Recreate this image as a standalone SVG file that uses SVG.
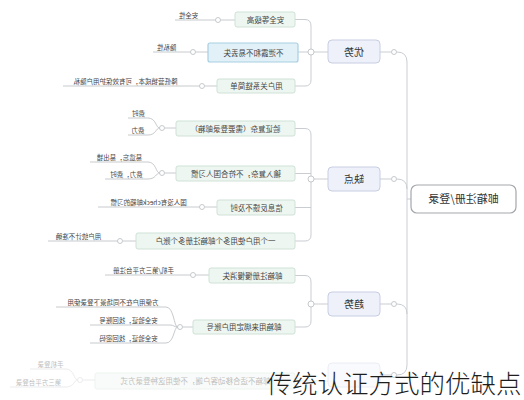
<svg xmlns="http://www.w3.org/2000/svg" width="524" height="400" viewBox="0 0 524 400">
<style>
text{font-family:"Noto Sans CJK SC","Noto Sans",sans-serif;fill:#444}
.m{transform:scaleX(-1);transform-box:fill-box;transform-origin:center}
.t8{font-size:7.5px;text-anchor:middle}
.t7{font-size:6.5px;text-anchor:middle;fill:#444}
.t10{font-size:10px;text-anchor:middle;fill:#333}
.t11{font-size:11px;text-anchor:middle;fill:#333}
.ln{fill:none;stroke:#c9cdd2;stroke-width:1}
.lf{fill:none;stroke:#b8bcc0;stroke-width:0.8}
.dot{fill:#fff;stroke:#b8bcc0;stroke-width:0.8}
.b1{fill:#eef1fa;stroke:#c8cee2;stroke-width:1}
.b2{fill:#eef6f1;stroke:#cfe2d6;stroke-width:1}
.bh{fill:#e2f0f7;stroke:#a7cfe3;stroke-width:1.2}
.root{fill:#fff;stroke:#a3a7ab;stroke-width:1.2}
</style>
<rect width="524" height="400" fill="#fff"/>
<g id="connectors">
<path class="ln" d="M407,62 V365 M397,52 Q407,52 407,62 M397,179 Q407,179 407,189 M397,304 Q407,304 407,314 M397,375 Q407,375 407,365 M407,199 H411"/>
<path class="ln" d="M380,52 H391 M380,179 H391 M380,304 H391 M380,375 H391"/>
<circle class="dot" cx="394" cy="52" r="2.5"/><circle class="dot" cx="394" cy="179" r="2.5"/><circle class="dot" cx="394" cy="304" r="2.5"/><circle class="dot" cx="394" cy="375" r="2.5"/>
<path class="ln" d="M295,19.5 H305 Q311,19.5 311,26 V80 Q311,86 305,86 H295 M298,52 H308 M314,52 H328"/>
<circle class="dot" cx="311" cy="52" r="3"/>
<path class="ln" d="M295,128.5 H305 Q311,128.5 311,135 V235 Q311,241 305,241 H295 M295,173.5 H311 M295,207.5 H311 M314,179 H328"/>
<circle class="dot" cx="311" cy="179" r="3"/>
<path class="ln" d="M295,275.5 H305 Q311,275.5 311,282 V321 Q311,327 305,327 H295 M314,304 H328"/>
<circle class="dot" cx="311" cy="304" r="3"/>
<path class="lf" d="M175,20 H215.5 M221,20 H235"/><circle class="dot" cx="218" cy="20" r="2.5"/>
<path class="lf" d="M153,52 H190.5 M196,52 H208"/><circle class="dot" cx="193" cy="52" r="2.5"/>
<path class="lf" d="M63,86 H199.5 M205,86 H217"/><circle class="dot" cx="202" cy="86" r="2.5"/>
<path class="lf" d="M128,118 H148 C156,118 156,128 159.5,128 M128,135 H148 C156,135 156,128 159.5,128 M165,128 H176"/><circle class="dot" cx="162" cy="128" r="2.5"/>
<path class="lf" d="M90,162 H148 C156,162 156,173 159.5,173 M105,179 H148 C156,179 156,173 159.5,173 M165,173 H176"/><circle class="dot" cx="162" cy="173" r="2.5"/>
<path class="lf" d="M98,207 H199.5 M205,207 H217"/><circle class="dot" cx="202" cy="207" r="2.5"/>
<path class="lf" d="M48,241 H117.5 M123,241 H136"/><circle class="dot" cx="120" cy="241" r="2.5"/>
<path class="lf" d="M105,275 H190.5 M196,275 H209"/><circle class="dot" cx="193" cy="275" r="2.5"/>
<path class="lf" d="M56,307 H166 C174,307 174,327 177.5,327 M90,325 H170 C174,325 174,327 177.5,327 M90,343 H166 C174,343 174,327 177.5,327 M183,327 H193"/><circle class="dot" cx="180" cy="327" r="2.5"/>
<g opacity="0.35">
<path class="ln" d="M295,381 H328"/>
<path class="lf" d="M30,369 H66 C74,369 74,380 77.5,380 M10,387 H66 C74,387 74,380 77.5,380 M83,380 H95"/><circle class="dot" cx="80" cy="380" r="2.5"/>
</g>
</g>
<g id="root"><rect class="root" x="411" y="185" width="105" height="28" rx="6"/><text class="t11 m" x="463.5" y="203">邮箱注册/登录</text></g>
<g id="youshi"><rect class="b1" x="328" y="40" width="52" height="23" rx="4"/><text class="t10 m" x="354" y="55.5">优势</text></g>
<g id="quedian"><rect class="b1" x="328" y="167" width="52" height="24" rx="4"/><text class="t10 m" x="354" y="182.5">缺点</text></g>
<g id="qushi"><rect class="b1" x="328" y="292" width="52" height="24" rx="4"/><text class="t10 m" x="354" y="307.5">趋势</text></g>
<g id="bottom" opacity="0.35"><rect class="b1" x="328" y="363" width="52" height="24" rx="4"/></g>
<g id="y1"><rect class="b2" x="235" y="12" width="60" height="15" rx="2"/><text class="t8 m" x="265" y="22.5">安全等级高</text></g>
<g id="y1l"><text class="t7 m" x="188" y="17.5">安全性</text></g>
<g id="y2"><rect class="bh" x="208" y="43" width="90" height="19" rx="2"/><text class="t8 m" x="253" y="55.5">不泄露和不易丢失</text></g>
<g id="y2l"><text class="t7 m" x="166" y="49.5">隐私性</text></g>
<g id="y3"><rect class="b2" x="217" y="79" width="78" height="14" rx="2"/><text class="t8 m" x="256" y="89">用户关系链简单</text></g>
<g id="y3l"><text class="t7 m" x="125" y="83.5">降低营销成本，可有效保护用户隐私</text></g>
<g id="q1"><rect class="b2" x="176" y="121" width="119" height="15" rx="2"/><text class="t8 m" x="235.5" y="131.5">验证复杂（需要登录邮箱）</text></g>
<g id="q1l"><text class="t7 m" x="138" y="115.5">费时</text><text class="t7 m" x="138" y="132.5">费力</text></g>
<g id="q2"><rect class="b2" x="176" y="166" width="119" height="15" rx="2"/><text class="t8 m" x="235.5" y="176.5">输入复杂，不符合国人习惯</text></g>
<g id="q2l"><text class="t7 m" x="119" y="159.5">易遗忘，易出错</text><text class="t7 m" x="126" y="176.5">费力，费时</text></g>
<g id="q3"><rect class="b2" x="217" y="200" width="78" height="15" rx="2"/><text class="t8 m" x="256" y="210.5">信息反馈不及时</text></g>
<g id="q3l"><text class="t7 m" x="148" y="204.5">国人没有check邮箱的习惯</text></g>
<g id="q4"><rect class="b2" x="136" y="233" width="159" height="16" rx="2"/><text class="t8 m" x="215.5" y="244">一个用户使用多个邮箱注册多个账户</text></g>
<g id="q4l"><text class="t7 m" x="78" y="238.5">用户统计不准确</text></g>
<g id="s1"><rect class="b2" x="209" y="268" width="86" height="15" rx="2"/><text class="t8 m" x="252" y="278.5">邮箱注册慢慢消失</text></g>
<g id="s1l"><text class="t7 m" x="143" y="272.5">手机/第三方平台注册</text></g>
<g id="s2"><rect class="b2" x="193" y="320" width="102" height="14" rx="2"/><text class="t8 m" x="244" y="330">邮箱用来绑定用户账号</text></g>
<g id="s2l"><text class="t7 m" x="113" y="304.5">方便用户在不同场景下登录使用</text><text class="t7 m" x="128" y="322.5">安全验证，找回账号</text><text class="t7 m" x="128" y="340.5">安全验证，找回密码</text></g>
<g id="b1" opacity="0.35"><rect class="b2" x="95" y="373" width="200" height="16" rx="2"/><text class="t8 m" x="195" y="384">邮箱不适合移动客户端，不使用这种登录方式</text></g>
<g id="b1l" opacity="0.35"><text class="t7 m" x="50" y="366.5">手机登录</text><text class="t7 m" x="38" y="384.5">第三方平台登录</text></g>
<text x="394" y="393" style="font-size:25.5px;font-weight:300;text-anchor:middle;fill:#1e1e1e">传统认证方式的优缺点</text>
</svg>
